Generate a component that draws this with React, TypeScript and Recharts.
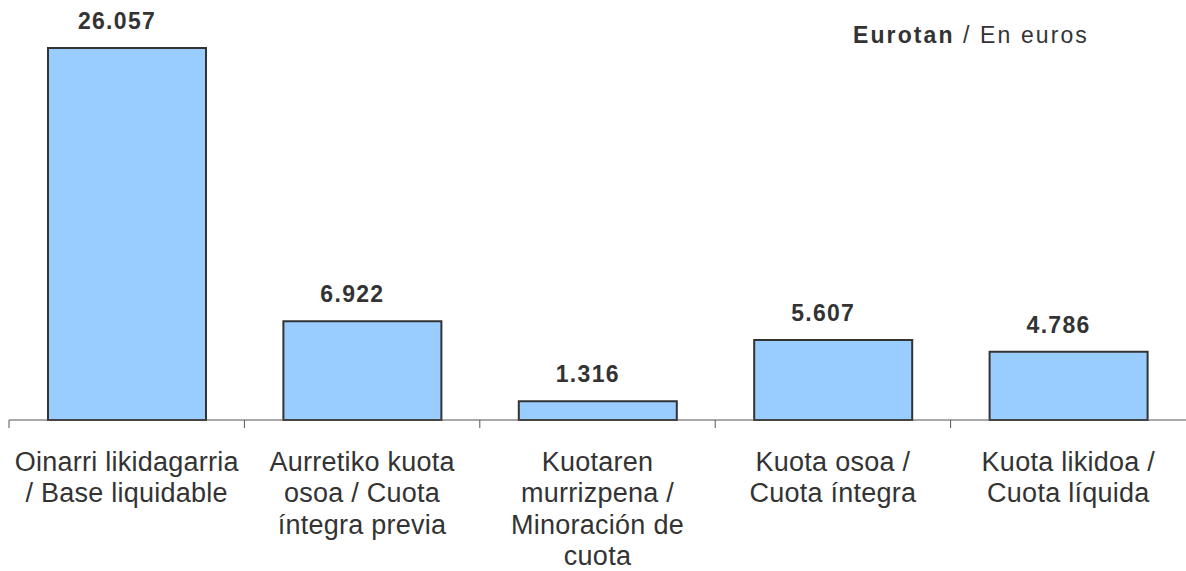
import React from "react";
import { BarChart, Bar, XAxis, YAxis, LabelList } from "recharts";

const categories = [
  ["Oinarri likidagarria", "/ Base liquidable"],
  ["Aurretiko kuota", "osoa / Cuota", "íntegra previa"],
  ["Kuotaren", "murrizpena /", "Minoración de", "cuota"],
  ["Kuota osoa /", "Cuota íntegra"],
  ["Kuota likidoa /", "Cuota líquida"],
];
const values = [26057, 6922, 1316, 5607, 4786];

const data = categories.map((lines, i) => ({
  name: lines.join(" "),
  value: values[i],
}));

const W = 1186;
const H = 571;
const LEFT = 9;
const RIGHT = 0;
const BAND = (W - LEFT - RIGHT) / categories.length;
const FONT = "Liberation Sans, Arial, sans-serif";

const formatValue = (v: number) => v.toLocaleString("de-DE");

const CategoryTick = (props: any) => {
  const { x, y, index } = props;
  const lines = categories[index] || [];
  return (
    <g>
      <line x1={x - BAND / 2} y1={y - 8} x2={x - BAND / 2} y2={y} stroke="#555" strokeWidth={1} />
      <text
        x={x}
        y={y + 43}
        textAnchor="middle"
        fill="#333"
        fontSize={27}
        letterSpacing={0.25}
        fontFamily={FONT}
      >
        {lines.map((l, i) => (
          <tspan key={i} x={x} dy={i === 0 ? 0 : 31.3}>
            {l}
          </tspan>
        ))}
      </text>
    </g>
  );
};

const ValueLabel = (props: any) => {
  const { x, y, width, value } = props;
  return (
    <text
      x={x + width / 2 - 10}
      y={y - 19}
      textAnchor="middle"
      fill="#333"
      fontSize={23}
      fontWeight="bold"
      letterSpacing={1.3}
      fontFamily={FONT}
    >
      {formatValue(Number(value))}
    </text>
  );
};

const App = () => {
  return (
    <div style={{ width: W, height: H, position: "relative", background: "#fff" }}>
      <style>{"body{margin:0}"}</style>
      <BarChart
        width={W}
        height={H}
        data={data}
        margin={{ top: 48, right: RIGHT, bottom: 0, left: LEFT }}
        barSize={158}
      >
        <XAxis
          dataKey="name"
          axisLine={{ stroke: "#555" }}
          tickLine={false}
          tick={<CategoryTick />}
          interval={0}
          height={151}
        />
        <YAxis hide domain={[0, 26057]} />
        <Bar dataKey="value" fill="#99CCFF" stroke="#333" strokeWidth={2} isAnimationActive={false}>
          <LabelList dataKey="value" content={<ValueLabel />} />
        </Bar>
      </BarChart>
      <div
        style={{
          position: "absolute",
          left: 853,
          top: 22,
          fontFamily: FONT,
          fontSize: 23,
          letterSpacing: 2.1,
          color: "#333",
          whiteSpace: "nowrap",
        }}
      >
        <b>Eurotan</b> / En euros
      </div>
    </div>
  );
};

export default App;
